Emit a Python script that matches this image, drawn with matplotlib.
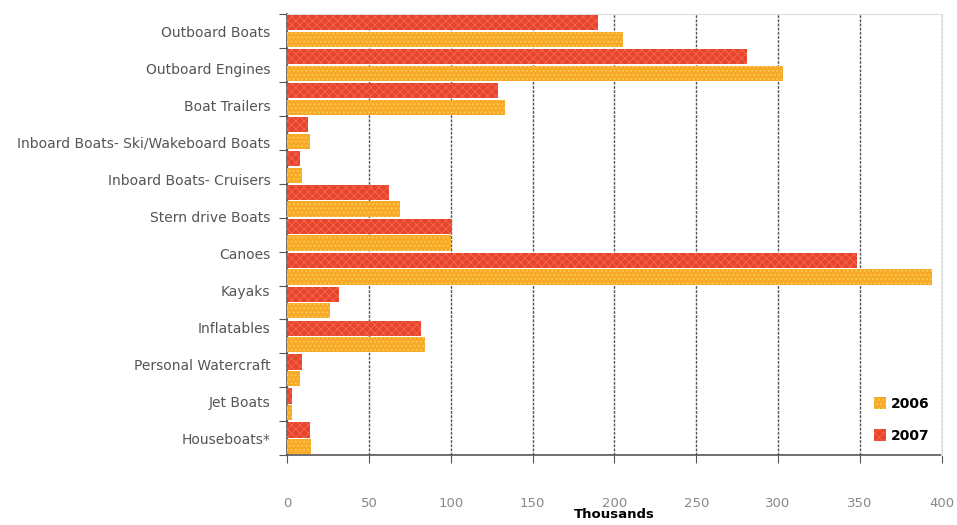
import numpy as np
import matplotlib
matplotlib.use("Agg")
import matplotlib.pyplot as plt

# 13 bar groups in the source chart but only 12 labels, spread evenly over them
labels = ["Outboard Boats", "Outboard Engines", "Boat Trailers",
          "Inboard Boats- Ski/Wakeboard Boats", "Inboard Boats- Cruisers",
          "Stern drive Boats", "Canoes", "Kayaks", "Inflatables",
          "Personal Watercraft", "Jet Boats", "Houseboats*"]
y2007 = [190, 281, 129, 13, 8, 62, 101, 348, 32, 82, 9, 3, 14]
y2006 = [205, 303, 133, 14, 9, 69, 100, 394, 26, 84, 8, 3, 14.5]
xticks = [0, 50, 100, 150, 200, 250, 300, 350, 400]

RED = "#e8432d"
YEL = "#f7a928"

plt.rcParams["hatch.linewidth"] = 0.6

fig = plt.figure(figsize=(9.57, 5.25), dpi=100)
ax = fig.add_axes([0.300, 0.133, 0.684, 0.840])

n = len(y2007)
pos = np.arange(n)
h = 0.45
ax.barh(pos - h / 2 - 0.02, y2007, height=h, color=RED, edgecolor="#f26a4f",
        hatch="xxxx", linewidth=0, label="2007", zorder=3)
ax.barh(pos + h / 2 + 0.02, y2006, height=h, color=YEL, edgecolor="#ffd35c",
        hatch="....", linewidth=0, label="2006", zorder=3)

ax.set_ylim(n - 0.5, -0.5)
ax.set_xlim(0, 400)

# boundary ticks on the category axis, labels placed evenly
ax.set_yticks(np.arange(n + 1) - 0.5)
ax.set_yticklabels([])
ax.tick_params(axis="y", which="major", length=6, color="#555555")
ax.set_yticks(np.linspace(0, n - 1, len(labels)), minor=True)
ax.set_yticklabels(labels, minor=True, fontsize=10, color="#555555")
ax.tick_params(axis="y", which="minor", length=0, pad=12)

ax.set_xticks(xticks)
ax.set_xticklabels([str(v) for v in xticks], fontsize=9.5, color="#888888")
ax.tick_params(axis="x", length=6, color="#555555", pad=24)

ax.grid(axis="x", linestyle=(0, (2, 1)), color="#555555", linewidth=1.0, zorder=1)

for s in ["top", "right"]:
    ax.spines[s].set_color("#dddddd")
for s in ["left", "bottom"]:
    ax.spines[s].set_color("#555555")
    ax.spines[s].set_linestyle((0, (2, 1)))
    ax.spines[s].set_linewidth(1.2)

ax.set_xlabel("Thousands", fontsize=9.5, fontweight="bold", va="center")
ax.xaxis.set_label_coords(0.5, -0.135)

hs, ls = ax.get_legend_handles_labels()
ax.legend(hs[::-1], ls[::-1], loc="lower right", frameon=False,
          prop={"weight": "bold", "size": 10}, handlelength=0.9,
          handleheight=0.9, handletextpad=0.3, labelspacing=1.3,
          bbox_to_anchor=(1.0, 0.0))

fig.savefig("out.png", dpi=100)
